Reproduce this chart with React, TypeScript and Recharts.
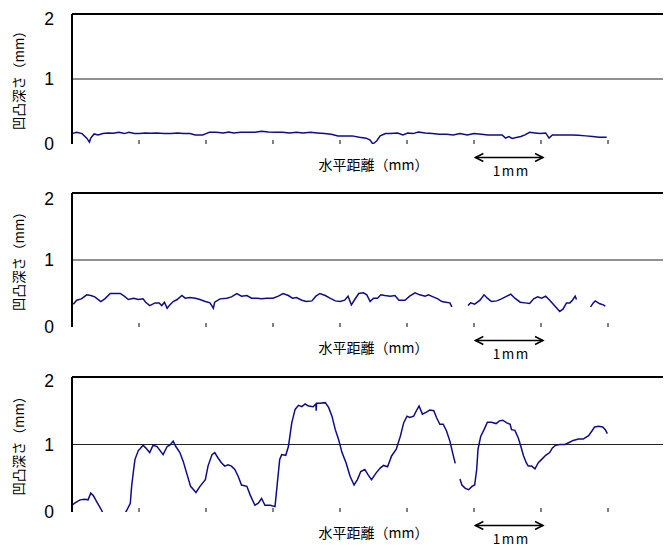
import React from 'react'
import { LineChart, Line, XAxis, YAxis, ReferenceLine } from 'recharts'

// 水平距離 (mm) と 凹凸深さ (mm) の組
const profileTop: [number, number | null][] = [
  [0, 0.16], [0.07, 0.18], [0.15, 0.16], [0.22, 0.09], [0.26, 0.03], [0.28, 0.09], [0.33, 0.155],
  [0.39, 0.14], [0.46, 0.16], [0.54, 0.17], [0.62, 0.165], [0.7, 0.18], [0.78, 0.16], [0.85, 0.18],
  [0.93, 0.16], [1.01, 0.16], [1.09, 0.17], [1.17, 0.165], [1.27, 0.17], [1.37, 0.16], [1.48, 0.16],
  [1.58, 0.17], [1.66, 0.16], [1.76, 0.16], [1.84, 0.14], [1.95, 0.14], [2.0, 0.16], [2.05, 0.18],
  [2.15, 0.18], [2.26, 0.17], [2.34, 0.185], [2.41, 0.17], [2.52, 0.18], [2.62, 0.18], [2.73, 0.18],
  [2.83, 0.195], [2.93, 0.185], [3.04, 0.18], [3.14, 0.18], [3.25, 0.17], [3.35, 0.18], [3.45, 0.17],
  [3.56, 0.18], [3.66, 0.17], [3.77, 0.16], [3.87, 0.15], [3.97, 0.125], [4.08, 0.125], [4.18, 0.125],
  [4.29, 0.105], [4.39, 0.09], [4.45, 0.06], [4.49, 0.0], [4.55, 0.05], [4.6, 0.125], [4.68, 0.16],
  [4.75, 0.16], [4.86, 0.17], [4.94, 0.14], [5.01, 0.17], [5.09, 0.16], [5.17, 0.185], [5.27, 0.17],
  [5.38, 0.16], [5.48, 0.15], [5.59, 0.15], [5.69, 0.14], [5.79, 0.16], [5.9, 0.14], [6.0, 0.16],
  [6.11, 0.15], [6.21, 0.14], [6.31, 0.14], [6.42, 0.14], [6.47, 0.09], [6.52, 0.115], [6.57, 0.085],
  [6.63, 0.1], [6.7, 0.115], [6.76, 0.14], [6.83, 0.18], [6.91, 0.17], [6.99, 0.16], [7.07, 0.17],
  [7.12, 0.09], [7.17, 0.14], [7.25, 0.14], [7.36, 0.14], [7.46, 0.14], [7.56, 0.135], [7.67, 0.125],
  [7.77, 0.115], [7.87, 0.105], [7.98, 0.105],
]

const profileMiddle: [number, number | null][] = [
  [0.02, 0.34], [0.07, 0.4], [0.14, 0.42], [0.22, 0.48], [0.28, 0.47], [0.34, 0.45], [0.43, 0.38],
  [0.49, 0.42], [0.57, 0.5], [0.64, 0.5], [0.72, 0.5], [0.78, 0.46], [0.84, 0.41], [0.92, 0.43],
  [0.99, 0.41], [1.06, 0.42], [1.1, 0.37], [1.16, 0.32], [1.24, 0.36], [1.3, 0.36], [1.34, 0.32],
  [1.38, 0.37], [1.42, 0.28], [1.46, 0.33], [1.51, 0.38], [1.57, 0.41], [1.64, 0.47], [1.69, 0.43],
  [1.76, 0.44], [1.84, 0.43], [1.91, 0.41], [1.99, 0.38], [2.06, 0.36], [2.11, 0.28], [2.13, 0.37],
  [2.21, 0.42], [2.31, 0.43], [2.38, 0.45], [2.46, 0.5], [2.53, 0.46], [2.61, 0.47], [2.68, 0.43],
  [2.76, 0.43], [2.83, 0.42], [2.91, 0.43], [3.0, 0.43], [3.08, 0.46], [3.15, 0.5], [3.23, 0.47],
  [3.29, 0.43], [3.35, 0.44], [3.43, 0.4], [3.5, 0.38], [3.58, 0.39], [3.64, 0.46], [3.7, 0.5],
  [3.78, 0.47], [3.85, 0.43], [3.93, 0.39], [4.0, 0.38], [4.07, 0.4], [4.12, 0.46], [4.17, 0.33],
  [4.22, 0.41], [4.28, 0.5], [4.35, 0.51], [4.4, 0.48], [4.45, 0.38], [4.5, 0.43], [4.56, 0.43],
  [4.61, 0.48], [4.67, 0.47], [4.75, 0.46], [4.82, 0.47], [4.88, 0.4], [4.97, 0.4], [5.04, 0.46],
  [5.12, 0.51], [5.19, 0.48], [5.27, 0.46], [5.32, 0.48], [5.39, 0.45], [5.46, 0.42], [5.52, 0.38],
  [5.58, 0.37], [5.64, 0.36], [5.67, 0.3], [5.79, null],
  [5.91, 0.32], [5.95, 0.36], [6.01, 0.34], [6.09, 0.4], [6.15, 0.48], [6.2, 0.43], [6.26, 0.38],
  [6.34, 0.39], [6.41, 0.42], [6.49, 0.46], [6.55, 0.49], [6.61, 0.43], [6.69, 0.37], [6.76, 0.36],
  [6.83, 0.35], [6.89, 0.42], [6.95, 0.45], [7.01, 0.43], [7.07, 0.46], [7.13, 0.4], [7.21, 0.31],
  [7.28, 0.23], [7.33, 0.27], [7.38, 0.36], [7.43, 0.36], [7.47, 0.4], [7.51, 0.46], [7.53, 0.41],
  [7.64, null],
  [7.74, 0.3], [7.78, 0.36], [7.81, 0.39], [7.87, 0.35], [7.93, 0.33], [7.96, 0.31],
]

const profileBottom: [number, number | null][] = [
  [0, 0.1], [0.04, 0.13], [0.12, 0.18], [0.19, 0.19], [0.24, 0.18], [0.28, 0.28], [0.32, 0.24],
  [0.37, 0.15], [0.44, 0.03], [0.52, -0.15], [0.62, -0.3], [0.72, -0.15], [0.82, 0.03], [0.87, 0.13],
  [0.89, 0.38], [0.92, 0.63], [0.94, 0.78], [0.99, 0.91], [1.02, 0.94], [1.06, 0.99], [1.1, 0.95],
  [1.16, 0.88], [1.21, 0.99], [1.27, 0.97], [1.36, 0.85], [1.42, 0.97], [1.46, 0.99], [1.51, 1.05],
  [1.55, 0.97], [1.61, 0.88], [1.66, 0.75], [1.71, 0.58], [1.77, 0.38], [1.85, 0.29], [1.91, 0.38],
  [1.99, 0.48], [2.03, 0.68], [2.09, 0.85], [2.13, 0.88], [2.18, 0.8], [2.23, 0.73], [2.28, 0.68],
  [2.33, 0.7], [2.38, 0.68], [2.43, 0.63], [2.48, 0.53], [2.53, 0.4], [2.61, 0.38], [2.66, 0.25],
  [2.73, 0.1], [2.78, 0.13], [2.83, 0.2], [2.88, 0.1], [2.96, 0.1], [3.03, 0.08], [3.06, 0.38],
  [3.1, 0.78], [3.13, 0.85], [3.19, 0.84], [3.23, 0.97], [3.28, 1.32], [3.33, 1.52], [3.38, 1.58],
  [3.43, 1.56], [3.48, 1.6], [3.53, 1.57], [3.6, 1.56], [3.64, 1.6], [3.645, 1.5], [3.65, 1.61],
  [3.7, 1.61], [3.78, 1.62], [3.83, 1.55], [3.88, 1.42], [3.93, 1.22], [3.98, 1.07], [4.03, 0.88],
  [4.09, 0.73], [4.15, 0.53], [4.21, 0.4], [4.26, 0.48], [4.31, 0.6], [4.37, 0.63], [4.42, 0.55],
  [4.47, 0.48], [4.54, 0.58], [4.6, 0.65], [4.65, 0.69], [4.71, 0.67], [4.77, 0.83], [4.84, 0.93],
  [4.9, 1.12], [4.95, 1.32], [5.0, 1.42], [5.04, 1.4], [5.1, 1.42], [5.14, 1.5], [5.18, 1.57],
  [5.23, 1.45], [5.29, 1.48], [5.34, 1.51], [5.4, 1.5], [5.44, 1.4], [5.49, 1.3], [5.54, 1.3],
  [5.59, 1.2], [5.64, 1.05], [5.68, 0.88], [5.72, 0.72], [5.755, null],
  [5.79, 0.49], [5.82, 0.4], [5.87, 0.35], [5.92, 0.33], [5.97, 0.38], [6.01, 0.4], [6.04, 0.63],
  [6.06, 0.93], [6.1, 1.12], [6.15, 1.22], [6.2, 1.33], [6.26, 1.33], [6.33, 1.31], [6.38, 1.35],
  [6.43, 1.36], [6.49, 1.32], [6.54, 1.3], [6.56, 1.22], [6.61, 1.21], [6.66, 1.1], [6.7, 0.97],
  [6.74, 0.83], [6.78, 0.73], [6.81, 0.68], [6.86, 0.68], [6.91, 0.64], [6.96, 0.73], [7.01, 0.78],
  [7.07, 0.84], [7.13, 0.88], [7.17, 0.95], [7.22, 0.99], [7.28, 1.0], [7.36, 1.0], [7.42, 1.03],
  [7.48, 1.06], [7.56, 1.08], [7.63, 1.08], [7.71, 1.13], [7.76, 1.2], [7.8, 1.26], [7.86, 1.27],
  [7.92, 1.26], [7.96, 1.22], [7.99, 1.16],
]

const xTicks = [0, 1, 2, 3, 4, 5, 6, 7, 8, 9]
const innerTicks = [1, 2, 3, 4, 5, 6, 7, 8]
const yTicks = [0, 1, 2]
const yLabel = '凹凸深さ（mm）'
const xLabel = '水平距離（mm）'
const scaleText = '1mm'
const scaleFrom = 6.02
const scaleTo = 7.03

const LEFT = 64
const MM = 67
const CHART_W = 680
const LINE_COLOR = '#0d0d8a'
const JP_FONT = '"Noto Sans CJK JP", "Noto Sans", sans-serif'

const px = (mm: number) => LEFT + mm * MM

type PanelProps = {
  profile: [number, number | null][]
  height: number
  top: number
  plotH: number
}

const Panel = ({ profile, height, top, plotH }: PanelProps) => {
  const data = profile.map(([x, y]) => ({ x, y }))
  const bottom = top + plotH
  const ay = bottom + 13.5
  const tickLen = 4 / (plotH / 2) // 4px in data units
  return (
    <div style={{ position: 'relative', width: CHART_W, height }}>
      <LineChart
        width={CHART_W}
        height={height}
        data={data}
        margin={{ top, right: CHART_W - LEFT - 9 * MM, left: 0, bottom: height - bottom }}
      >
        <XAxis
          dataKey="x"
          type="number"
          domain={[0, 9]}
          ticks={xTicks}
          height={0}
          tick={false}
          tickLine={false}
          axisLine={{ stroke: '#000', strokeWidth: 2 }}
        />
        <YAxis
          type="number"
          domain={[0, 2]}
          allowDataOverflow
          ticks={yTicks}
          width={LEFT}
          tickLine={false}
          tickMargin={12}
          axisLine={{ stroke: '#000', strokeWidth: 2 }}
          tick={{ fill: '#000', fontSize: 17.5, fontFamily: '"Liberation Sans", Arial, sans-serif' }}
          label={{
            content: (props: any) => {
              const vb = props.viewBox || {}
              const cx = 10
              const cy = (vb.y ?? top) + (vb.height ?? plotH) / 2 - 2
              return (
                <text
                  x={cx}
                  y={cy}
                  transform={`rotate(-90, ${cx}, ${cy})`}
                  textAnchor="middle"
                  dominantBaseline="central"
                  fontSize={13.5}
                  fontFamily={JP_FONT}
                  fill="#000"
                >
                  {yLabel}
                </text>
              )
            },
          }}
        />
        <ReferenceLine y={1} stroke="#222" strokeWidth={1} />
        <ReferenceLine y={2} stroke="#000" strokeWidth={2} />
        {innerTicks.map((t) => (
          <ReferenceLine
            key={t}
            segment={[{ x: t, y: 0 }, { x: t, y: tickLen }]}
            stroke="#000"
            strokeWidth={1}
          />
        ))}
        <Line
          type="linear"
          dataKey="y"
          stroke={LINE_COLOR}
          strokeWidth={1.5}
          dot={false}
          activeDot={false}
          isAnimationActive={false}
        />
      </LineChart>
      <svg
        width={CHART_W}
        height={height}
        style={{ position: 'absolute', left: 0, top: 0, pointerEvents: 'none' }}
      >
        <text
          x={px(4.5)}
          y={bottom + 19.5}
          textAnchor="middle"
          dominantBaseline="central"
          fontSize={14}
          fontFamily={JP_FONT}
          fill="#000"
        >
          {xLabel}
        </text>
        <g stroke="#000" strokeWidth={1.5} fill="none">
          <line x1={px(scaleFrom)} y1={ay} x2={px(scaleTo)} y2={ay} />
          <polyline points={`${px(scaleFrom) + 8},${ay - 4} ${px(scaleFrom)},${ay} ${px(scaleFrom) + 8},${ay + 4}`} />
          <polyline points={`${px(scaleTo) - 8},${ay - 4} ${px(scaleTo)},${ay} ${px(scaleTo) - 8},${ay + 4}`} />
        </g>
        <text
          x={(px(scaleFrom) + px(scaleTo)) / 2 + 2}
          y={bottom + 26}
          textAnchor="middle"
          dominantBaseline="central"
          fontSize={13.5}
          letterSpacing={1.5}
          fontFamily={JP_FONT}
          fill="#000"
        >
          {scaleText}
        </text>
      </svg>
    </div>
  )
}

const App = () => {
  return (
    <div style={{ width: 663, overflow: 'hidden' }}>
      <Panel profile={profileTop} height={180} top={6} plotH={130} />
      <Panel profile={profileMiddle} height={182} top={5} plotH={134} />
      <Panel profile={profileBottom} height={177} top={7} plotH={135} />
    </div>
  )
}

export default App
